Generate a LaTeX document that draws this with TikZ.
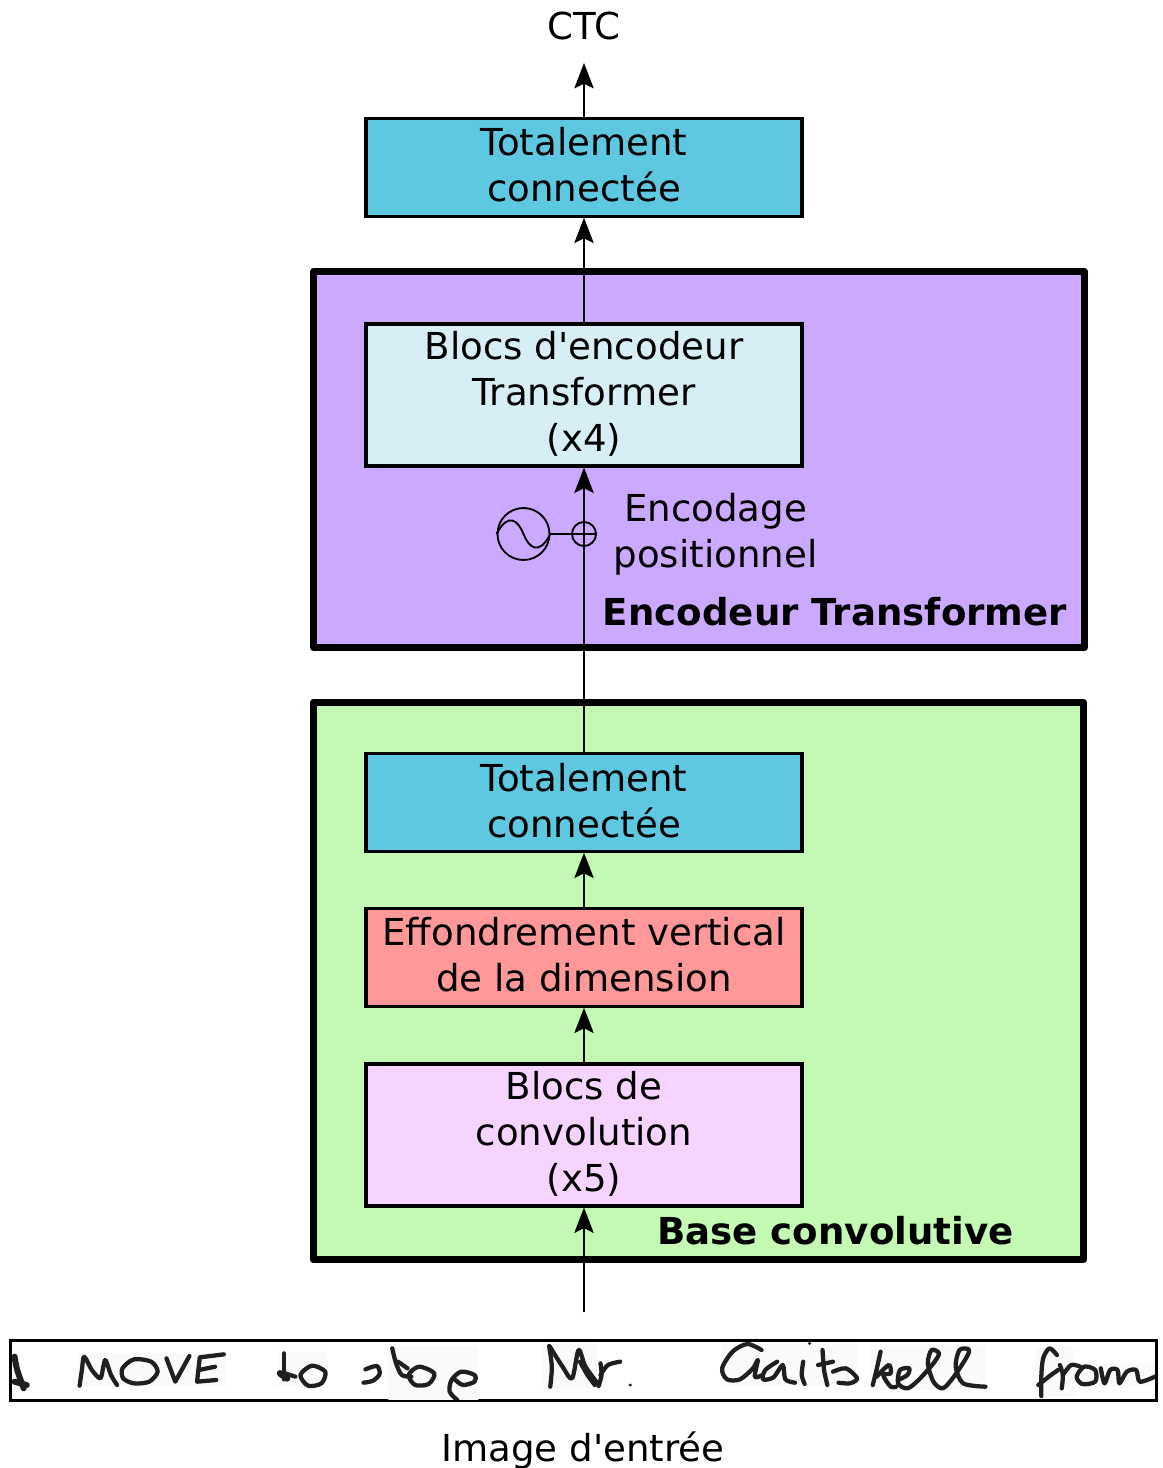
\documentclass[tikz,border=0pt]{standalone}
\usepackage{fontspec}
\usetikzlibrary{arrows.meta}
\newfontfamily\dv{DejaVu Sans}
\definecolor{fc}{HTML}{5EC8E0}
\definecolor{enc}{HTML}{CBA9FF}
\definecolor{base}{HTML}{C4F9B3}
\definecolor{tr}{HTML}{D7EEF4}
\definecolor{col}{HTML}{FF9999}
\definecolor{conv}{HTML}{F5D5FF}
\tikzset{
 lab/.style={font=\dv\fontsize{27.85}{34.5}\selectfont,align=center,inner sep=0pt,text=black},
 blockbox/.style={lab,draw=black,line width=2.3pt,minimum width=327pt,line join=miter},
 framebox/.style={draw=black,line width=5.4pt,line join=round,inner sep=0pt},
 arr/.style={draw=black,line width=1.5pt,-{Stealth[length=19pt,width=14.5pt,inset=3.5pt]}},
 pen/.style={draw=black!88,line width=3.2pt,line cap=round,line join=round},
 thin/.style={draw=black,line width=1.4pt},
}
\begin{document}
\begin{tikzpicture}[x=0.75pt,y=-0.75pt]
\useasboundingbox (0,0) rectangle (1163,1468);
\node[framebox,fill=enc,minimum width=578pt,minimum height=282pt] (E) at (699,459.5) {};
\node[framebox,fill=base,minimum width=578pt,minimum height=418pt] (B) at (698.5,981) {};
\node[blockbox,fill=fc,minimum height=73pt] (fc2) at (584,167.5) {Totalement\\connectée\\[-29.25pt]};
\node[blockbox,fill=tr,minimum height=106.5pt] (T) at (584,395) {Blocs d'encodeur\\Transformer\\(x4)\\[-28.5pt]};
\node[blockbox,fill=fc,minimum height=73pt] (fc1) at (584,802.5) {Totalement\\connectée\\[-31pt]};
\node[blockbox,fill=col,minimum height=73pt] (V) at (584,957.5) {Effondrement vertical\\de la dimension\\[-30.5pt]};
\node[blockbox,fill=conv,minimum height=106.5pt] (C) at (584,1135) {Blocs de\\convolution\\(x5)\\[-28.5pt]};
\node[lab] (ctc) at (584,26) {CTC};
\node[lab] (pos) at (715.5,534) {Encodage\\positionnel};
\node[lab,font=\dv\bfseries\fontsize{27.85}{34.5}\selectfont] (etitle) at (835,612) {Encodeur Transformer};
\node[lab,font=\dv\bfseries\fontsize{27.85}{34.5}\selectfont] (btitle) at (835.5,1231) {Base convolutive};
\node[lab] (imgl) at (583,1450) {Image d'entrée};
\node[draw=black,line width=2.6pt,minimum width=859.5pt,minimum height=45pt,inner sep=0pt,fill=white] (I) at (583.5,1370.5) {};
\coordinate (ctcin) at (584,63);
\coordinate (imgtop) at (584,1312);
\draw[arr] (fc2.north) -- (ctcin);
\draw[arr] (T.north) -- (fc2.south);
\draw[arr] (fc1.north) -- (T.south);
\draw[arr] (V.north) -- (fc1.south);
\draw[arr] (C.north) -- (V.south);
\draw[arr] (imgtop) -- (C.south);
% positional encoding symbol
\node[circle,thin,minimum size=39pt,inner sep=0pt] (S) at (523.5,534) {};
\node[circle,thin,minimum size=18pt,inner sep=0pt] (P) at (584,534) {};
\draw[thin] (S.east) -- (P.west);
\draw[thin] (P.west) -- (P.east);
\draw[thin] (S.west) .. controls (508,512) and (518,520) .. (523.5,534) .. controls (529,548) and (539,556) .. (S.east);
% handwriting
\begin{scope}
\clip (12,1342) rectangle (1155,1399);
\begin{scope}[shift={(0,1320)},x=0.287pt,y=-0.25pt]
\fill[black!2] (205,100) rectangle (590,200) (725,95) rectangle (855,200) (1015,80) rectangle (1250,240) (1420,70) rectangle (1560,205);
\draw[pen,line width=4.5pt] plot[smooth] coordinates {(38,110) (45,150) (62,205)};
\draw[pen,line width=4.5pt] (38,185) -- (70,195);
\draw[pen] plot[smooth] coordinates {(208,197) (214,150) (220,110) (240,150) (262,175) (270,140) (276,120) (290,165) (306,195)};
\draw[pen] plot[smooth cycle] coordinates {(320,145) (350,118) (395,125) (412,155) (390,185) (350,190) (322,175)};
\draw[pen] plot coordinates {(435,115) (458,185) (495,108)};
\draw[pen] plot coordinates {(585,103) (522,112) (515,185) (565,180)};
\draw[pen] (520,150) -- (562,140);
\draw[pen] (742,100) -- (742,178);
\draw[pen,line width=5pt] (732,160) -- (750,175);
\draw[pen] (745,160) -- (772,170);
\draw[pen] plot[smooth cycle] coordinates {(785,165) (815,137) (850,155) (840,190) (805,197)};
\draw[pen] plot[smooth] coordinates {(955,148) (985,138) (992,162) (975,182) (950,188)};
\draw[pen] plot[smooth] coordinates {(1025,85) (1035,130) (1050,165) (1075,170)};
\draw[pen] (1040,125) -- (1065,145);
\draw[pen] plot[smooth cycle] coordinates {(1068,165) (1095,140) (1135,160) (1120,192) (1085,195)};
\draw[pen] plot[smooth] coordinates {(1195,240) (1175,215) (1180,180) (1205,155) (1240,165) (1240,185) (1210,195) (1190,180)};
\draw[pen] plot[smooth] coordinates {(1435,78) (1442,140) (1438,200)};
\draw[pen] plot[smooth] coordinates {(1437,80) (1470,140) (1495,175) (1512,90) (1530,140) (1565,195)};
\end{scope}
\begin{scope}[shift={(580,1320)},x=0.279pt,y=-0.25pt]
\fill[black!2] (380,70) rectangle (745,195) (780,75) rectangle (1090,210) (1225,80) rectangle (1330,230) (1340,130) rectangle (1545,200);
\draw[pen] plot[smooth] coordinates {(0,125) (20,165) (40,195)};
\draw[pen] plot[smooth] coordinates {(55,130) (58,165) (50,198)};
\draw[pen] plot[smooth] coordinates {(55,165) (75,135) (108,125)};
\fill[black!85] (135,195) circle (5);
\draw[pen] plot[smooth] coordinates {(488,90) (450,72) (410,95) (382,145) (395,178) (430,178) (465,145) (478,120) (470,170) (490,165)};
\draw[pen] plot[smooth] coordinates {(530,125) (498,150) (492,178) (520,172) (545,135) (552,178) (578,188)};
\draw[pen] plot[smooth] coordinates {(600,125) (596,165) (604,192)};
\fill[black!85] (617,70) circle (5);
\draw[pen] plot[smooth] coordinates {(652,90) (656,150) (665,195)};
\draw[pen] (640,135) -- (680,125);
\draw[pen] plot[smooth] coordinates {(680,155) (715,145) (745,175) (725,190) (695,188)};
\draw[pen] plot[smooth] coordinates {(808,95) (797,150) (787,195)};
\draw[pen] plot[smooth] coordinates {(797,170) (830,135) (835,160) (815,165) (835,200) (850,200)};
\draw[pen] plot[smooth] coordinates {(855,180) (880,165) (885,145) (860,150) (855,190) (880,205) (910,180) (950,130) (965,100) (945,90) (935,130) (950,185) (975,205) (1005,170) (1040,110) (1045,88) (1020,90) (1010,140) (1030,190) (1090,200)};
\draw[pen] plot[smooth] coordinates {(1282,105) (1262,85) (1245,115) (1240,170) (1240,228)};
\draw[pen] plot[smooth] coordinates {(1232,195) (1260,170) (1285,150)};
\draw[pen] plot[smooth] coordinates {(1290,135) (1298,165) (1295,205)};
\draw[pen] plot[smooth] coordinates {(1298,165) (1320,135) (1345,140)};
\draw[pen] plot[smooth cycle] coordinates {(1335,170) (1355,140) (1385,150) (1385,185) (1350,192)};
\draw[pen] plot[smooth] coordinates {(1400,145) (1410,190) (1425,150) (1445,150) (1450,190) (1470,155) (1495,150) (1505,185) (1545,170)};
\end{scope}
\end{scope}
\end{tikzpicture}
\end{document}
